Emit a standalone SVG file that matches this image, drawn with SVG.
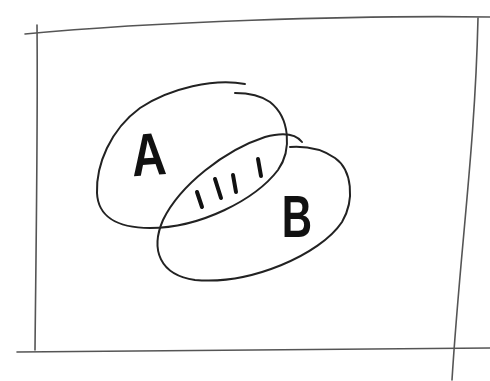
<svg xmlns="http://www.w3.org/2000/svg" width="490" height="381" viewBox="0 0 490 381">
  <style>
    .frame { fill: none; stroke: #555; stroke-width: 1.6; stroke-linecap: round; }
    .set { fill: none; stroke: #222; stroke-width: 2; stroke-linecap: round; }
    .hatch { stroke: #111; stroke-width: 4; stroke-linecap: round; }
    .lbl { font-family: "Liberation Sans", Arial, sans-serif; font-size: 60px; font-weight: bold; fill: #111; text-anchor: middle; }
  </style>
  <rect width="490" height="381" fill="#fff"/>
  <g id="universe">
    <path class="frame" d="M25,34 C150,22 350,15 490,17"/>
    <path class="frame" d="M37,25 C38,120 36,250 35,350"/>
    <path class="frame" d="M17,352 C200,349 350,348 490,348"/>
    <path class="frame" d="M478,18 C475,150 460,250 452,380"/>
  </g>
  <g id="setA">
    <path class="set" d="M245,84 C215,78 170,88 140,108 C110,130 96,165 97,193 C98,215 115,228 150,228 C200,228 255,200 278,170 C292,150 290,118 270,102 C260,95 248,93 235,93"/>
    <text class="lbl" transform="translate(150,175) rotate(-4) scale(0.8,1)" x="0" y="0">A</text>
  </g>
  <g id="setB">
    <path class="set" d="M302,142 C295,133 280,133 265,137 C225,150 180,185 163,220 C150,250 160,275 195,280 C250,285 320,255 342,222 C355,200 352,170 335,158 C322,149 305,146 290,147"/>
    <text class="lbl" transform="translate(297,237) scale(0.7,1)" x="0" y="0">B</text>
  </g>
  <g id="intersection">
    <line class="hatch" x1="197" y1="192" x2="202" y2="207"/>
    <line class="hatch" x1="215" y1="179" x2="221" y2="198"/>
    <line class="hatch" x1="233" y1="175" x2="236" y2="192"/>
    <line class="hatch" x1="258" y1="159" x2="261" y2="176"/>
  </g>
  <g id="connectors"></g>
</svg>
